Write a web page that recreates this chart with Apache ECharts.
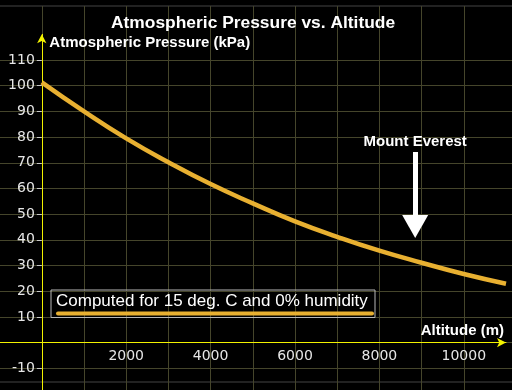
<!DOCTYPE html>
<html>
<head>
<meta charset="utf-8">
<script src="https://cdn.jsdelivr.net/npm/echarts@6/dist/echarts.min.js"></script>
<style>html,body{margin:0;padding:0;background:#000;}#c{width:512px;height:390px;}</style>
</head>
<body>
<div id="c"></div>
<script>
// ---- data ----
var altitudes = [0, 1000, 2000, 3000, 4000, 5000, 6000, 7000, 8000, 9000, 10000, 11000];
var pressures = [101.3, 90.0, 79.5, 70.2, 61.7, 54.2, 47.2, 41.2, 35.8, 31.1, 26.7, 22.9];
var xTickLabels = [2000, 4000, 6000, 8000, 10000];
var yTickLabels = [-10, 10, 20, 30, 40, 50, 60, 70, 80, 90, 100, 110];
var everestAltitude = 8848;
var everestLabel = 'Mount Everest';
var seriesName = 'Computed for 15 deg. C and 0% humidity';

var points = altitudes.map(function (a, i) { return [a, pressures[i]]; });

var GRID = '#45452b';
var AXIS = '#f2f200';
var SANS = '"Liberation Sans", Arial, sans-serif';
var LAB = '"DejaVu Sans", Verdana, sans-serif';
var CURVE = '#e8b031';
function plain(v) { return String(v); }
var NOB = {containLabel: false, outerBoundsMode: 'none'};
function g(o) { return Object.assign({}, NOB, o); }

var chart = echarts.init(document.getElementById('c'), null, {renderer: 'canvas'});
chart.setOption({
  backgroundColor: '#000',
  animation: false,
  title: {
    text: 'Atmospheric Pressure vs. Altitude',
    left: 111, top: 15, padding: 0,
    textStyle: {color: '#fff', fontFamily: SANS, fontWeight: 'bold', fontSize: 17.4}
  },
  legend: {
    left: 51, top: 290,
    padding: [3, 1, 2, 0],
    borderColor: '#b8b8b8', borderWidth: 1,
    selectedMode: false,
    icon: 'rect', itemWidth: 0, itemHeight: 0,
    data: [seriesName],
    formatter: function (n) { return '{t|' + n + '}\n{l| }'; },
    textStyle: {
      rich: {
        t: {color: '#fff', fontFamily: SANS, fontSize: 17, lineHeight: 18},
        l: {width: 318, height: 4, backgroundColor: CURVE, borderRadius: 2, fontSize: 2, lineHeight: 6}
      }
    }
  },
  grid: [
    g({left: -3, right: -3, top: 6, bottom: 8, show: true, borderColor: '#454545', borderWidth: 1, backgroundColor: 'transparent'}),
    g({left: -0.4, right: 6, top: 6, bottom: 0}),
    g({left: -3, right: -3, top: 60, bottom: 21.7}),
    g({left: -0.4, right: 6, top: 34.3, bottom: -4}),
    g({left: 41.8, right: 6, top: 34.3, bottom: -4}),
    g({left: -0.4, right: 6, top: 34.3, bottom: 47.4})
  ],
  xAxis: [
    {gridIndex: 0, type: 'value', show: false, min: 0, max: 1},
    {gridIndex: 1, type: 'value', min: -1000, max: 11000, interval: 1000,
      axisLine: {show: false}, axisTick: {show: false}, axisLabel: {show: false},
      splitLine: {show: true, showMinLine: false, showMaxLine: false, lineStyle: {color: GRID, width: 1}}},
    {gridIndex: 2, type: 'value', show: false, min: 0, max: 1},
    {gridIndex: 3, type: 'value', min: -1000, max: 11000, interval: 1000,
      name: 'Altitude (m)', nameLocation: 'end', nameGap: -2,
      nameTextStyle: {color: '#fff', fontFamily: SANS, fontWeight: 'bold', fontSize: 15, align: 'right', verticalAlign: 'bottom', padding: [0, 0, 4, 0]},
      axisLine: {show: true, onZero: true, symbol: ['none', 'arrow'], symbolSize: [7, 9], lineStyle: {color: AXIS, width: 1}},
      axisTick: {show: false}, axisLabel: {show: false}, splitLine: {show: false}},
    {gridIndex: 4, type: 'value', show: false, min: 0, max: 1},
    {gridIndex: 5, type: 'value', min: -1000, max: 11000, interval: 1000,
      axisLine: {show: false}, axisTick: {show: false},
      axisLabel: {show: true, customValues: xTickLabels, formatter: plain, margin: 6.5, color: '#e6e6e6', fontFamily: LAB, fontSize: 14},
      splitLine: {show: false}}
  ],
  yAxis: [
    {gridIndex: 0, type: 'value', show: false, min: 0, max: 1},
    {gridIndex: 1, type: 'value', show: false, min: 0, max: 1},
    {gridIndex: 2, type: 'value', min: -10, max: 110, interval: 10,
      axisLine: {show: false}, axisTick: {show: false}, axisLabel: {show: false},
      splitLine: {show: true, lineStyle: {color: GRID, width: 1}}},
    {gridIndex: 3, type: 'value', min: -20, max: 120, interval: 10,
      name: 'Atmospheric Pressure (kPa)', nameLocation: 'end', nameGap: -9,
      nameTextStyle: {color: '#fff', fontFamily: SANS, fontWeight: 'bold', fontSize: 15, align: 'left', verticalAlign: 'middle', padding: [0, 0, 0, 7.5]},
      axisLine: {show: true, onZero: true, symbol: ['none', 'arrow'], symbolSize: [7, 9], lineStyle: {color: AXIS, width: 1}},
      axisTick: {show: false}, axisLabel: {show: false}, splitLine: {show: false}},
    {gridIndex: 4, type: 'value', min: -20, max: 120, interval: 10,
      axisLine: {show: false},
      axisTick: {show: true, customValues: yTickLabels, length: 5, lineStyle: {color: '#c8c8c8'}},
      axisLabel: {show: true, customValues: yTickLabels, formatter: plain, margin: 7, color: '#e6e6e6', fontFamily: LAB, fontSize: 14},
      splitLine: {show: false}},
    {gridIndex: 5, type: 'value', show: false, min: 0, max: 1}
  ],
  series: [{
    name: seriesName,
    type: 'line',
    xAxisIndex: 3, yAxisIndex: 3,
    data: points,
    smooth: true,
    showSymbol: false,
    lineStyle: {color: CURVE, width: 4.5},
    itemStyle: {color: CURVE},
    markLine: {
      silent: true,
      animation: false,
      symbol: ['none', 'triangle'],
      symbolSize: [26, 23],
      lineStyle: {color: '#fff', width: 5, type: 'solid'},
      label: {show: true, position: 'start', formatter: everestLabel, distance: 3,
        color: '#fff', fontFamily: SANS, fontWeight: 'bold', fontSize: 15},
      emphasis: {disabled: true},
      data: [[{coord: [everestAltitude, 74.2]}, {coord: [everestAltitude, 45.2]}]]
    }
  }]
});
</script>
</body>
</html>
